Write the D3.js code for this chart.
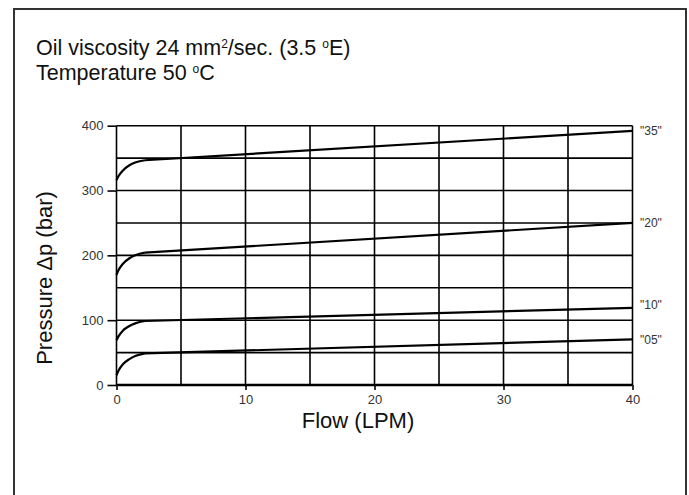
<!DOCTYPE html>
<html><head><meta charset="utf-8">
<script src="https://cdn.jsdelivr.net/npm/d3@7"></script>
<style>body{margin:0;background:#fff;}svg{display:block;font-family:"Liberation Sans",Arial,sans-serif;}</style>
</head><body>
<script>
const flow = [0, 0.15, 0.5, 1.0, 1.5, 2.2, 40];
const s35 = [316, 322, 331, 339, 343.5, 346.7, 392];
const s20 = [170, 177, 187, 195.5, 200.6, 204.2, 250];
const s10 = [69, 75, 84, 91, 95.5, 98.7, 119];
const s05 = [15, 22, 32, 40, 45, 48.7, 70.5];
const seriesNames = ['"35"', '"20"', '"10"', '"05"'];
const seriesValues = [s35, s20, s10, s05];
const labelOffsets = [0, 0, -3, 1];
const xTicks = [0, 10, 20, 30, 40];
const yTicks = [0, 100, 200, 300, 400];

const W = 689, H = 495;
const svg = d3.select("body").append("svg").attr("width", W).attr("height", H);
svg.append("rect").attr("x", 14).attr("y", 9).attr("width", 672).attr("height", 600)
  .attr("fill", "none").attr("stroke", "#333").attr("stroke-width", 2);

const x = d3.scaleLinear().domain([0, 40]).range([116.5, 632.5]);
const y = d3.scaleLinear().domain([0, 400]).range([385, 125.7]);

// grid
const g = svg.append("g");
g.selectAll("line.h").data(d3.range(0, 401, 50)).join("line")
  .attr("x1", x(0)).attr("x2", x(40)).attr("y1", d => y(d)).attr("y2", d => y(d))
  .attr("stroke", "#000").attr("stroke-width", d => d === 0 ? 2.5 : 1.6);
g.selectAll("line.v").data(d3.range(0, 41, 5)).join("line")
  .attr("y1", y(0)).attr("y2", y(400)).attr("x1", d => x(d)).attr("x2", d => x(d))
  .attr("stroke", "#000").attr("stroke-width", 1.6);

// axes
const ya = svg.append("g").attr("transform", `translate(${x(0)},0)`)
  .call(d3.axisLeft(y).tickValues(yTicks).tickSize(9).tickPadding(4));
ya.select(".domain").remove();
ya.selectAll("line").attr("stroke", "#000").attr("stroke-width", 1.6);
ya.selectAll("text").attr("font-size", 13).attr("fill", "#333").attr("font-family", "Liberation Sans, Arial");

const xa = svg.append("g").attr("transform", `translate(0,${y(0)})`)
  .call(d3.axisBottom(x).tickValues(xTicks).tickSize(5).tickPadding(5));
xa.select(".domain").remove();
xa.selectAll("line").attr("stroke", "#000").attr("stroke-width", 1.6);
xa.selectAll("text").attr("font-size", 13).attr("fill", "#333").attr("font-family", "Liberation Sans, Arial");

// curves: rounded knee (monotone) then straight segment
const knee = d3.line().x(d => x(d[0])).y(d => y(d[1])).curve(d3.curveMonotoneX);
const straight = d3.line().x(d => x(d[0])).y(d => y(d[1]));
seriesValues.forEach(vals => {
  const pts = vals.map((v, i) => [flow[i], v]);
  const n = pts.length;
  svg.append("path").attr("d", knee(pts.slice(0, n - 1)))
    .attr("fill", "none").attr("stroke", "#000").attr("stroke-width", 2.2);
  svg.append("path").attr("d", straight(pts.slice(n - 2)))
    .attr("fill", "none").attr("stroke", "#000").attr("stroke-width", 2.2);
});

svg.selectAll("text.sl").data(seriesValues).join("text")
  .attr("x", 640).attr("y", (d, i) => y(d[d.length - 1]) + 4 + labelOffsets[i])
  .attr("font-size", 12).attr("fill", "#333").text((d, i) => seriesNames[i]);

// titles
const fs = 21.5;
const t1 = svg.append("text").attr("x", 36).attr("y", 55).attr("font-size", fs).attr("fill", "#111");
t1.append("tspan").text("Oil viscosity 24 mm");
t1.append("tspan").attr("dy", -7).attr("font-size", 12).text("2");
t1.append("tspan").attr("dy", 7).text("/sec. (3.5 ");
t1.append("tspan").attr("dy", -7).attr("font-size", 12).text("o");
t1.append("tspan").attr("dy", 7).text("E)");
const t2 = svg.append("text").attr("x", 36).attr("y", 80).attr("font-size", fs).attr("fill", "#111");
t2.append("tspan").text("Temperature 50 ");
t2.append("tspan").attr("dy", -7).attr("font-size", 12).text("o");
t2.append("tspan").attr("dy", 7).text("C");

svg.append("text").attr("x", 358).attr("y", 428).attr("text-anchor", "middle")
  .attr("font-size", 22).attr("fill", "#111").text("Flow (LPM)");
svg.append("text").attr("transform", `translate(52,278) rotate(-90)`).attr("text-anchor", "middle")
  .attr("font-size", 22).attr("fill", "#111").text("Pressure Δp (bar)");
</script>
</body></html>
